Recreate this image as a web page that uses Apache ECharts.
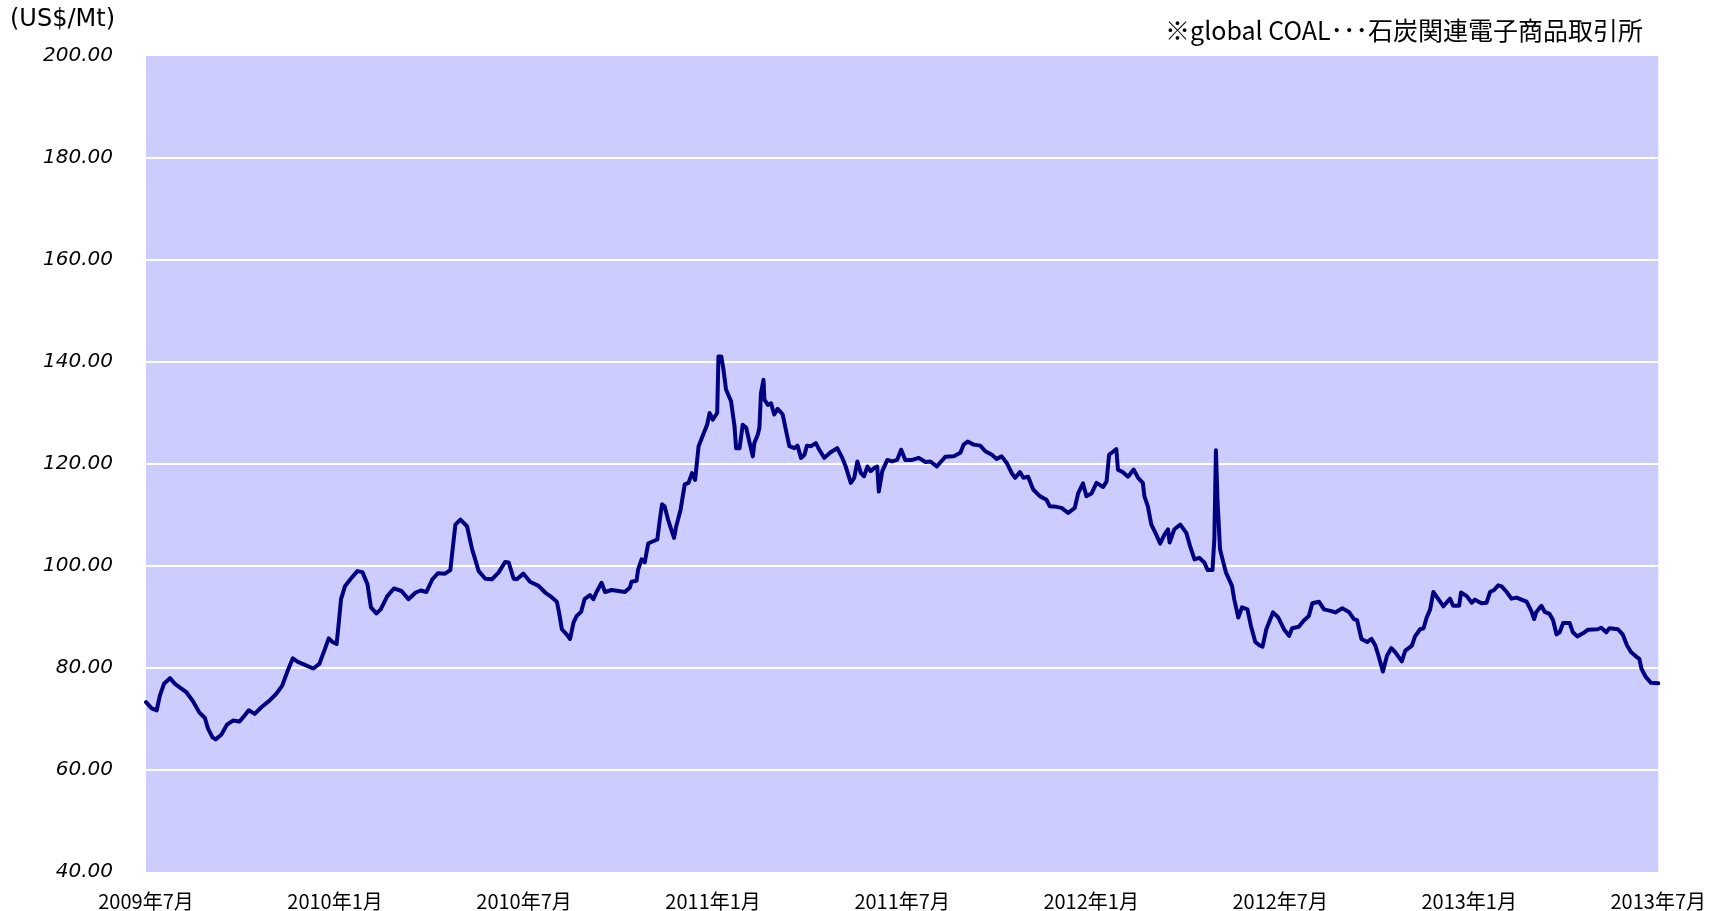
<!DOCTYPE html>
<html>
<head>
<meta charset="utf-8">
<script src="https://cdn.jsdelivr.net/npm/echarts@6/dist/echarts.min.js"></script>
<style>
  html, body { margin: 0; padding: 0; background: #fff; }
  #chart { width: 1709px; height: 911px; }
</style>
</head>
<body>
<div id="chart"></div>
<script>
// months since 2009年7月 (0 = 2009/07, 48 = 2013/07)
const months = [
  0, 0.18, 0.34, 0.44, 0.57, 0.76, 0.92, 1.07, 1.29, 1.5, 1.69, 1.87, 1.97, 2.11, 2.21, 2.39, 2.57, 2.76, 2.97, 3.13,
  3.26, 3.45, 3.66, 3.92, 4.13, 4.32, 4.5, 4.66, 4.82, 5.08, 5.31, 5.5, 5.66, 5.8, 5.92, 6.05, 6.11, 6.19, 6.32, 6.5,
  6.71, 6.87, 7.03, 7.14, 7.31, 7.45, 7.66, 7.87, 8.11, 8.33, 8.56, 8.72, 8.9, 9.09, 9.27, 9.49, 9.66,
  9.72, 9.82, 9.98, 10.19, 10.35, 10.56, 10.77, 10.98, 11.19, 11.4, 11.51, 11.67, 11.77, 11.98, 12.19, 12.46, 12.67,
  12.83, 13.04, 13.11, 13.2, 13.35, 13.46, 13.57, 13.67, 13.81, 13.92, 14.09, 14.2, 14.3, 14.46, 14.57, 14.78, 14.99,
  15.2, 15.36, 15.41, 15.57, 15.62, 15.73, 15.83, 15.94, 16.04, 16.23, 16.31, 16.38, 16.46, 16.57, 16.67, 16.76,
  16.83, 16.97, 17.1, 17.22, 17.33, 17.43, 17.54, 17.68, 17.81,
  17.89, 17.99, 18.13, 18.17, 18.26, 18.33, 18.41, 18.57, 18.68, 18.73, 18.84, 18.94, 19.05, 19.15, 19.26, 19.31,
  19.42, 19.47, 19.52, 19.6, 19.63, 19.74, 19.84, 19.94, 20.05, 20.21, 20.31, 20.42, 20.58, 20.68, 20.79, 20.9,
  20.98, 21.11, 21.26, 21.37, 21.53, 21.73, 21.94, 22.1, 22.21, 22.37, 22.48, 22.58, 22.69, 22.79, 22.9, 23.0,
  23.11, 23.21, 23.26, 23.37, 23.53, 23.68, 23.84, 23.97, 24.1, 24.32, 24.53, 24.74, 24.9, 25.1, 25.21, 25.37,
  25.64, 25.85, 25.95, 26.08, 26.27, 26.48, 26.64, 26.85, 27.0, 27.16, 27.32, 27.48, 27.59, 27.74, 27.85, 28.0,
  28.16, 28.37, 28.58,
  28.69, 28.9, 29.06, 29.27, 29.48, 29.59, 29.74, 29.85, 30.01, 30.17, 30.38, 30.49, 30.57, 30.67, 30.8, 30.85,
  31.01, 31.17, 31.35, 31.49, 31.64, 31.69, 31.8, 31.91, 32.04, 32.19, 32.33, 32.44, 32.49, 32.64, 32.83, 33.02,
  33.14, 33.28, 33.43, 33.59, 33.7, 33.85, 33.91, 33.96, 34.01, 34.09, 34.17, 34.28, 34.47, 34.54, 34.67, 34.79,
  34.96, 35.07, 35.21, 35.33, 35.44, 35.56, 35.77, 35.94, 36.12, 36.28, 36.38, 36.59, 36.75, 36.91, 37.02, 37.23,
  37.39, 37.6,
  37.75, 37.97, 38.18, 38.34, 38.44, 38.58, 38.76, 38.9, 39.02, 39.12, 39.26, 39.39, 39.53, 39.65, 39.86, 39.97,
  40.18, 40.28, 40.44, 40.55, 40.65, 40.76, 40.86, 41.02, 41.18, 41.39, 41.49, 41.68, 41.74, 41.92, 42.08, 42.18,
  42.39, 42.55, 42.66, 42.79, 42.92, 43.03, 43.19, 43.34, 43.5, 43.66, 43.82, 43.97, 44.06, 44.13, 44.29, 44.4,
  44.55, 44.66, 44.77, 44.87, 44.98, 45.19, 45.29, 45.43, 45.61, 45.77, 46.08, 46.19, 46.35, 46.45, 46.72, 46.87,
  47.01, 47.14, 47.29, 47.4, 47.47, 47.61, 47.77, 48.0
]

// global COAL price (US$/Mt)
const prices = [
  73.3, 72.1, 71.7, 74.6, 76.9, 78.0, 76.9, 76.2, 75.2, 73.4, 71.3, 70.2, 68.1, 66.4, 66.0, 66.9, 68.9, 69.7, 69.5, 70.7,
  71.7, 71.0, 72.3, 73.6, 74.9, 76.5, 79.5, 81.9, 81.2, 80.5, 79.9, 80.8, 83.4, 85.8, 85.1, 84.7, 88.3, 93.5, 96.1, 97.5,
  99.0, 98.8, 96.4, 91.9, 90.7, 91.5, 94.1, 95.6, 95.1, 93.5, 94.8, 95.2, 94.9, 97.4, 98.6, 98.5, 99.2,
  102.6, 108.1, 109.1, 107.8, 103.3, 99.0, 97.5, 97.4, 98.7, 100.8, 100.7, 97.5, 97.4, 98.5, 96.9, 96.1, 94.8,
  94.1, 93.0, 90.9, 87.6, 86.6, 85.7, 88.9, 90.2, 91.0, 93.5, 94.3, 93.5, 94.9, 96.7, 94.9, 95.3, 95.1,
  94.9, 95.8, 96.9, 97.1, 99.3, 101.3, 100.7, 104.4, 104.7, 105.2, 109.1, 112.1, 111.7, 109.1, 107.2, 105.5,
  107.8, 111.1, 116.0, 116.3, 118.2, 116.9, 123.5, 125.7, 127.7,
  130.0, 128.7, 130.0, 141.1, 141.1, 138.5, 134.6, 132.3, 127.4, 123.1, 123.1, 127.7, 127.1, 124.4, 121.5, 124.1,
  125.8, 127.1, 133.9, 136.5, 132.6, 131.6, 131.9, 129.7, 130.8, 129.7, 126.7, 123.5, 123.1, 123.6, 121.2, 121.8,
  123.6, 123.5, 124.1, 122.8, 121.2, 122.3, 123.1, 121.2, 119.5, 116.3, 117.3, 120.5, 118.2, 117.6, 119.5, 118.6,
  119.2, 119.5, 114.6, 118.6, 120.8, 120.5, 120.8, 122.8, 120.8, 120.8, 121.2, 120.4, 120.5, 119.5, 120.3, 121.4,
  121.5, 122.2, 123.8, 124.4, 123.8, 123.6, 122.5, 121.8, 121.0, 121.5, 120.2, 118.2, 117.3, 118.4, 117.3, 117.5,
  115.0, 113.7, 113.0,
  111.7, 111.6, 111.4, 110.4, 111.4, 114.3, 116.2, 113.7, 114.2, 116.3, 115.5, 116.6, 121.8, 122.3, 122.9, 118.9,
  118.4, 117.5, 118.9, 117.3, 116.3, 113.7, 111.7, 108.1, 106.5, 104.4, 106.2, 107.2, 104.6, 107.2, 108.1, 106.5,
  103.9, 101.3, 101.6, 100.7, 99.2, 99.2, 105.2, 122.7, 113.0, 103.3, 101.3, 98.7, 96.1, 93.5, 89.9, 91.9,
  91.5, 88.3, 85.1, 84.5, 84.2, 87.6, 90.9, 89.9, 87.6, 86.3, 87.8, 88.1, 89.3, 90.2, 92.7, 93.0,
  91.5, 91.2,
  90.9, 91.7, 91.0, 89.6, 89.4, 85.7, 85.1, 85.7, 84.4, 82.4, 79.3, 82.4, 83.9, 83.1, 81.3, 83.4,
  84.4, 86.2, 87.6, 87.8, 89.9, 91.5, 94.9, 93.5, 92.1, 93.6, 92.2, 92.2, 94.8, 94.1, 92.8, 93.4,
  92.7, 92.8, 94.9, 95.3, 96.2, 96.0, 94.9, 93.6, 93.8, 93.4, 93.0, 91.2, 89.6, 91.0, 92.2, 91.0,
  90.6, 89.4, 86.6, 87.0, 88.8, 88.8, 87.0, 86.2, 86.8, 87.5, 87.6, 87.9, 87.0, 87.8, 87.6, 86.6,
  84.4, 83.1, 82.3, 81.8, 79.8, 78.2, 77.1, 77.0
]

const tickLabels = [
  '2009年7月', '2010年1月', '2010年7月', '2011年1月', '2011年7月',
  '2012年1月', '2012年7月', '2013年1月', '2013年7月'
]

const myChart = echarts.init(document.getElementById('chart'))
const seriesData = months.map((m, i) => [m, prices[i]])

const option = {
  animation: false,
  backgroundColor: '#fff',
  title: [
    {
      text: '(US$/Mt)',
      left: 10,
      top: 8,
      padding: 0,
      textStyle: {
        fontFamily: 'DejaVu Sans',
        fontSize: 24,
        fontWeight: 'normal',
        color: '#000'
      }
    },
    {
      text: '※global COAL･･･石炭関連電子商品取引所',
      right: 66,
      top: 18,
      padding: 0,
      textStyle: {
        fontFamily: 'Noto Sans CJK JP',
        fontSize: 25,
        fontWeight: 'normal',
        color: '#000'
      }
    }
  ],
  grid: {
    left: 146,
    right: 45,
    top: 56,
    bottom: 37,
    show: true,
    backgroundColor: '#CCCCFF',
    borderWidth: 0
  },
  xAxis: {
    type: 'value',
    min: 0,
    max: 48,
    interval: 6,
    axisLine: { show: false },
    axisTick: { show: false },
    splitLine: { show: false },
    axisLabel: {
      margin: 19,
      showMinLabel: true,
      showMaxLabel: true,
      fontFamily: 'Noto Sans CJK JP',
      fontSize: 20,
      color: '#000',
      formatter: function(v) {
        return tickLabels[Math.round(v / 6)]
      }
    }
  },
  yAxis: {
    type: 'value',
    min: 40,
    max: 200,
    interval: 20,
    axisLine: { show: false },
    axisTick: { show: false },
    splitLine: {
      show: true,
      showMinLine: false,
      showMaxLine: false,
      lineStyle: { color: '#fff', width: 2 }
    },
    axisLabel: {
      margin: 33,
      fontFamily: 'DejaVu Sans',
      fontStyle: 'italic',
      fontSize: 20,
      color: '#000',
      formatter: function(v) {
        return v.toFixed(2)
      }
    }
  },
  series: [
    {
      name: 'global COAL',
      type: 'line',
      showSymbol: false,
      data: seriesData,
      lineStyle: {
        color: '#000080',
        width: 4,
        join: 'round',
        cap: 'round'
      }
    }
  ]
}
myChart.setOption(option)
</script>
</body>
</html>
